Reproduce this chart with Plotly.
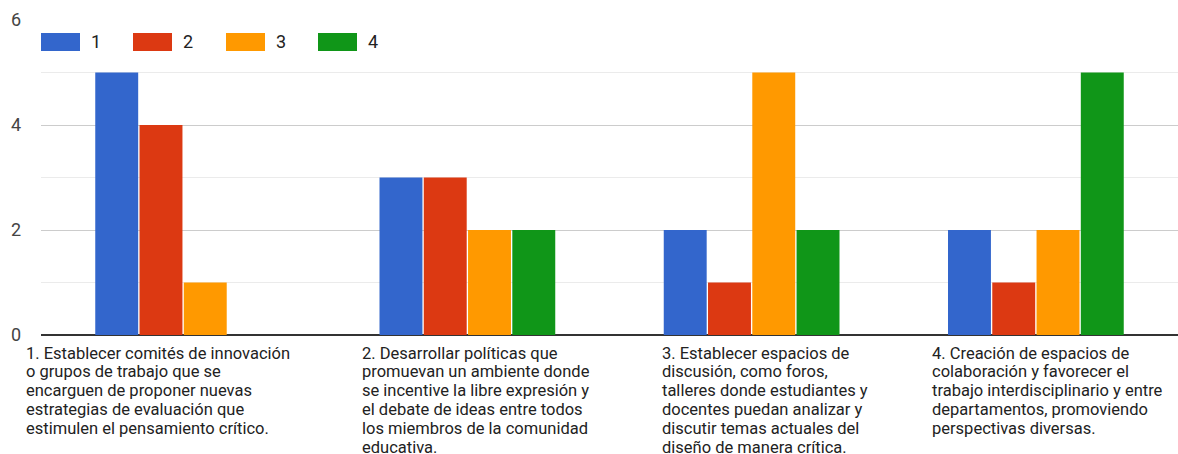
import plotly.graph_objects as go

W, H = 1178, 454
ML, MR, MT, MB = 41, 0, 20, 119

categories = [
    "1. Establecer comités de innovación<br>o grupos de trabajo que se<br>encarguen de proponer nuevas<br>estrategias de evaluación que<br>estimulen el pensamiento crítico.",
    "2. Desarrollar políticas que<br>promuevan un ambiente donde<br>se incentive la libre expresión y<br>el debate de ideas entre todos<br>los miembros de la comunidad<br>educativa.",
    "3. Establecer espacios de<br>discusión, como foros,<br>talleres donde estudiantes y<br>docentes puedan analizar y<br>discutir temas actuales del<br>diseño de manera crítica.",
    "4. Creación de espacios de<br>colaboración y favorecer el<br>trabajo interdisciplinario y entre<br>departamentos, promoviendo<br>perspectivas diversas.",
]
series_names = ["1", "2", "3", "4"]
s1 = [5, 3, 2, 2]
s2 = [4, 3, 1, 1]
s3 = [1, 2, 5, 2]
s4 = [0, 2, 2, 5]
colors = ["#3366cc", "#dc3912", "#ff9900", "#109618"]
tick_vals = [0, 2, 4, 6]

xs = list(range(len(categories)))
fig = go.Figure()
for name, vals, c in zip(series_names, [s1, s2, s3, s4], colors):
    fig.add_trace(go.Bar(x=xs, y=vals, name=name, marker=dict(color=c, line=dict(width=0)),
                         showlegend=False))

pw = W - ML - MR
ph = H - MT - MB
def px_x(p):
    return (p - ML) / pw
def px_y(p):
    return (H - MB - p) / ph

annotations = []
shapes = []
# custom legend
leg_left = [41, 133, 226, 318]
for i, (name, c) in enumerate(zip(series_names, colors)):
    shapes.append(dict(type="rect", xref="paper", yref="paper",
                       x0=px_x(leg_left[i]), x1=px_x(leg_left[i] + 39),
                       y0=px_y(51), y1=px_y(33),
                       fillcolor=c, line=dict(width=0)))
    annotations.append(dict(xref="paper", yref="paper", x=px_x(leg_left[i] + 48), y=px_y(42),
                            text=name, showarrow=False, xanchor="left", yanchor="middle",
                            font=dict(family="Roboto", size=18, color="#222222")))

# category labels, one annotation per wrapped line to control line spacing
label_left = [24, 360, 660, 930]
line_h = 18.9
first_mid = 353
for i, cat in enumerate(categories):
    for j, line in enumerate(cat.split("<br>")):
        annotations.append(dict(xref="paper", yref="paper", x=px_x(label_left[i]),
                                y=px_y(first_mid + j * line_h),
                                text=line, showarrow=False, xanchor="left", yanchor="middle",
                                align="left",
                                font=dict(family="Roboto", size=16.5, color="#222222")))

fig.update_layout(
    width=W, height=H,
    margin=dict(l=ML, r=MR, t=MT, b=MB, pad=0),
    paper_bgcolor="white", plot_bgcolor="white",
    barmode="group", bargap=0.377, bargroupgap=0.03,
    font=dict(family="Roboto", color="#444444"),
    annotations=annotations, shapes=shapes,
    showlegend=False,
)
fig.update_xaxes(showticklabels=False, showgrid=False, zeroline=False, range=[-0.5, 3.5],
                 showline=False)
fig.update_yaxes(range=[0, 6], tickvals=tick_vals, showgrid=True, gridcolor="#cccccc",
                 gridwidth=1, zeroline=True, zerolinecolor="#333333", zerolinewidth=2,
                 minor=dict(dtick=1, showgrid=True, gridcolor="#ebebeb", gridwidth=1),
                 tickfont=dict(family="Roboto", size=18, color="#444444"),
                 ticklabelstandoff=19, fixedrange=True)

fig.write_html("out.html")
